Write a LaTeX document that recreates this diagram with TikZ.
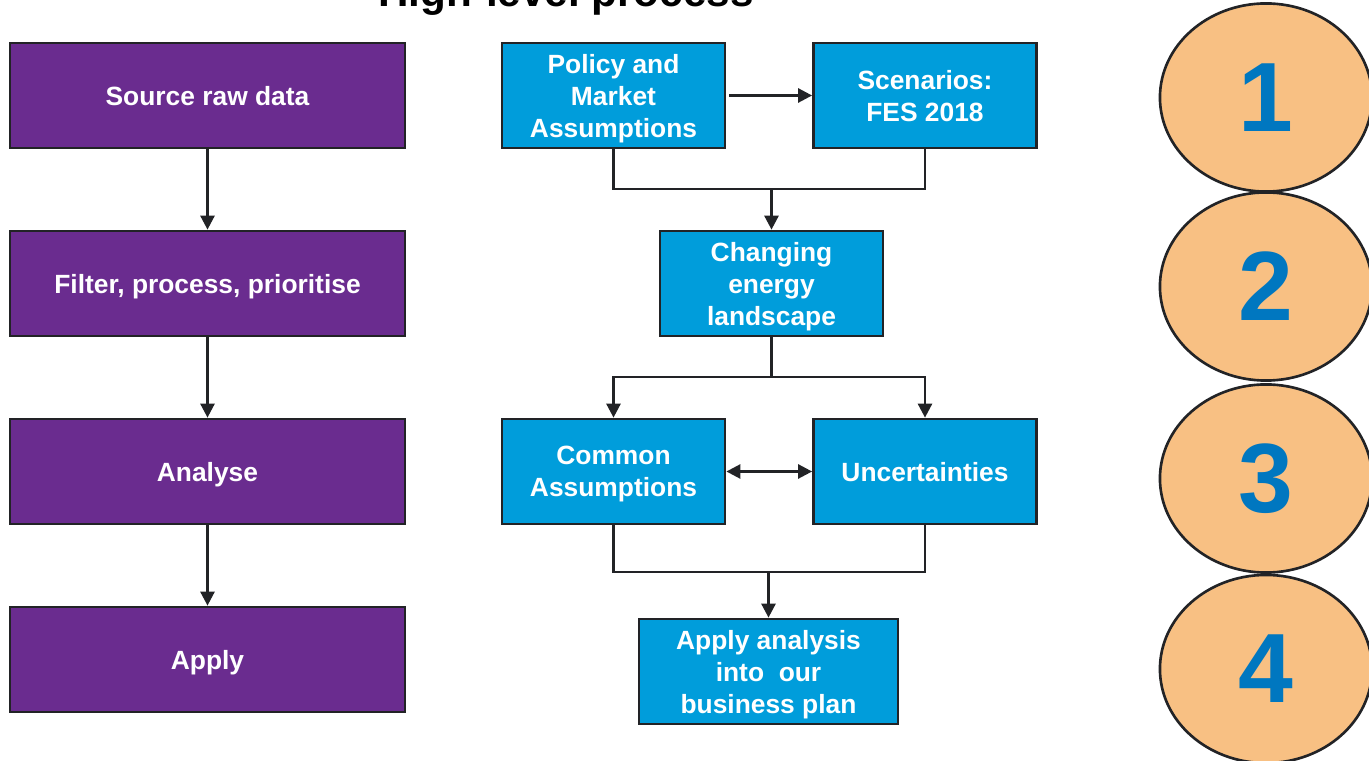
\documentclass[tikz,border=0pt]{standalone}
\usepackage{fontspec}
\setmainfont{Liberation Sans}
\usetikzlibrary{positioning,arrows.meta,shapes.geometric}
\definecolor{stepviolet}{HTML}{6A2C8F}
\definecolor{flowblue}{HTML}{009DDB}
\definecolor{numorange}{HTML}{F8C083}
\definecolor{numblue}{HTML}{0077C0}
\definecolor{linegrey}{HTML}{222326}

\begin{document}
\begin{tikzpicture}[x=0.01cm,y=-0.01cm,
  wire/.style={draw=linegrey,line width=0.75pt},
  arr/.style={-{Triangle[length=0.14cm,width=0.14cm]}},
  box/.style={wire,text=white,align=center,inner sep=0pt,text depth=0pt,
    font=\bfseries\fontsize{7.5}{9.1}\selectfont},
  pbox/.style={box,fill=stepviolet,minimum width=3.95cm,minimum height=1.05cm},
  bbox/.style={box,fill=flowblue,minimum width=2.23cm,minimum height=1.05cm},
  num/.style={ellipse,wire,fill=numorange,inner sep=0pt,minimum width=2.12cm,
    minimum height=1.88cm,text=numblue,font=\bfseries\fontsize{28}{30}\selectfont}]
\clip (0,0) rectangle (1369,761);

\node[anchor=base,font=\bfseries\fontsize{12}{14}\selectfont] (ttl) at (566,7) {High-level process};

\node[pbox] (src) at (207.5,95.5) {Source raw data};
\node[pbox] (filt) at (207.5,283.5) {Filter, process, prioritise};
\node[pbox] (anl) at (207.5,471.5) {Analyse};
\node[pbox] (app) at (207.5,659.5) {Apply};
\draw[wire,arr] (src) -- (filt);
\draw[wire,arr] (filt) -- (anl);
\draw[wire,arr] (anl) -- (app);

\node[bbox] (pol) at (613.5,95.5) {Policy and\\Market\\Assumptions};
\node[bbox] (scen) at (925,95.5) {Scenarios:\\FES 2018};
\node[bbox] (chg) at (771.5,283.5) {Changing\\energy\\landscape};
\node[bbox] (com) at (613.5,471.5) {Common\\Assumptions};
\node[bbox] (unc) at (925,471.5) {Uncertainties};
\node[bbox,minimum width=2.59cm] (plan) at (768.5,671.5) {Apply analysis\\into\ \ our\\business plan};

\draw[wire,arr] ([xshift=0.03cm]pol.east) -- (scen.west);
\coordinate (m1) at (771.5,189);
\draw[wire] (pol) |- (m1) -| (scen);
\draw[wire,arr] (m1) -- (chg);

\coordinate (m2) at (771.5,377);
\draw[wire] (chg) -- (m2);
\draw[wire,arr] (m2) -| (com);
\draw[wire,arr] (m2) -| (unc);
\draw[wire,{Triangle[length=0.14cm,width=0.14cm]}-{Triangle[length=0.14cm,width=0.14cm]}] (com) -- (unc);

\coordinate (m3) at (768.5,572);
\draw[wire] (com) |- (m3) -| (unc);
\draw[wire,arr] (m3) -- (plan);

\node[num] (c1) at (1266,97.5) {1};
\node[num] (c2) at (1266,286.5) {2};
\node[num] (c3) at (1266,478.5) {3};
\node[num] (c4) at (1266,669) {4};
\end{tikzpicture}
\end{document}
